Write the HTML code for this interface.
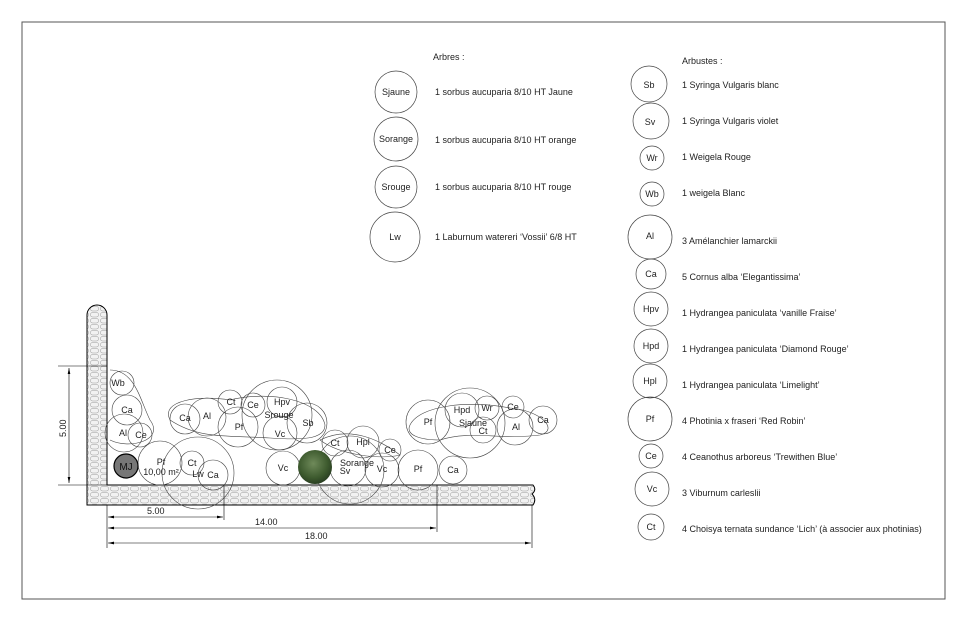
<!DOCTYPE html>
<html><head><meta charset="utf-8"><style>
html,body{margin:0;padding:0;background:#fff;}
svg{display:block;font-family:"Liberation Sans",sans-serif;}
text{font-size:9px;fill:#222;}
</style></head><body>
<svg width="967" height="621" viewBox="0 0 967 621" xmlns="http://www.w3.org/2000/svg">
<defs>
<pattern id="cob" width="10" height="6" patternUnits="userSpaceOnUse">
<rect width="10" height="6" fill="#f2f2f2"/>
<rect x="0.5" y="0.5" width="8" height="4.5" rx="2" fill="none" stroke="#9a9a9a" stroke-width="0.5"/>
</pattern>
<radialGradient id="bush" cx="0.45" cy="0.4" r="0.6"><stop offset="0" stop-color="#6f8a5a"/><stop offset="0.7" stop-color="#3d5a2e"/><stop offset="1" stop-color="#2a3f22"/></radialGradient>
<marker id="ar" markerWidth="10" markerHeight="6" refX="10" refY="3" orient="auto-start-reverse"><path d="M0,0.8 L10,3 L0,5.2z" fill="#000"/></marker>
</defs>
<rect x="22" y="22" width="923" height="577" fill="none" stroke="#555" stroke-width="1"/>

<!-- legend trees -->
<text x="433" y="60">Arbres :</text>
<g fill="none" stroke="#444" stroke-width="0.7">
<circle cx="396" cy="92" r="21"/><circle cx="396" cy="139" r="22"/><circle cx="396" cy="187" r="21"/><circle cx="395" cy="237" r="25"/>
</g>
<g text-anchor="middle"><text x="396" y="95">Sjaune</text><text x="396" y="142">Sorange</text><text x="396" y="190">Srouge</text><text x="395" y="240">Lw</text></g>
<text x="435" y="95">1 sorbus aucuparia 8/10 HT Jaune</text>
<text x="435" y="143">1 sorbus aucuparia 8/10 HT orange</text>
<text x="435" y="190">1 sorbus aucuparia 8/10 HT rouge</text>
<text x="435" y="240">1 Laburnum watereri ‘Vossii’ 6/8 HT</text>

<!-- legend shrubs -->
<text x="682" y="64">Arbustes :</text>
<g fill="none" stroke="#444" stroke-width="0.7">
<circle cx="649" cy="84" r="18"/><circle cx="651" cy="121" r="18"/><circle cx="652" cy="158" r="12"/><circle cx="652" cy="194" r="12"/><circle cx="650" cy="237" r="22"/><circle cx="651" cy="274" r="15"/><circle cx="651" cy="309" r="17"/><circle cx="651" cy="346" r="17"/><circle cx="650" cy="381" r="17"/><circle cx="650" cy="419" r="22"/><circle cx="651" cy="456" r="12"/><circle cx="652" cy="489" r="17"/><circle cx="651" cy="527" r="13"/>
</g>
<g text-anchor="middle">
<text x="649" y="88">Sb</text><text x="650" y="125">Sv</text><text x="652" y="161">Wr</text><text x="652" y="197">Wb</text><text x="650" y="239">Al</text><text x="651" y="277">Ca</text><text x="651" y="312">Hpv</text><text x="651" y="349">Hpd</text><text x="650" y="384">Hpl</text><text x="650" y="422">Pf</text><text x="651" y="459">Ce</text><text x="652" y="492">Vc</text><text x="651" y="530">Ct</text>
</g>
<text x="682" y="88">1 Syringa Vulgaris blanc</text>
<text x="682" y="124">1 Syringa Vulgaris violet</text>
<text x="682" y="160">1 Weigela Rouge</text>
<text x="682" y="196">1 weigela Blanc</text>
<text x="682" y="244">3 Amélanchier lamarckii</text>
<text x="682" y="280">5 Cornus alba ‘Elegantissima’</text>
<text x="682" y="316">1 Hydrangea paniculata ‘vanille Fraise’</text>
<text x="682" y="352">1 Hydrangea paniculata ‘Diamond Rouge’</text>
<text x="682" y="388">1 Hydrangea paniculata ‘Limelight’</text>
<text x="682" y="424">4 Photinia x fraseri ‘Red Robin’</text>
<text x="682" y="460">4 Ceanothus arboreus ‘Trewithen Blue’</text>
<text x="682" y="496">3 Viburnum carleslii</text>
<text x="682" y="532">4 Choisya ternata sundance ‘Lich’ (à associer aux photinias)</text>

<!-- wall -->
<path d="M87,505 L87,315 A10,10 0 0 1 107,315 L107,485 L533,485 Q537,490 532,494 Q537,499 533,505 Z" fill="url(#cob)" stroke="#000" stroke-width="1"/>

<!-- dimensions -->
<g stroke="#000" stroke-width="0.6" fill="none">
<line x1="58" y1="366" x2="107" y2="366"/><line x1="58" y1="485" x2="107" y2="485"/>
<line x1="69" y1="368" x2="69" y2="483" marker-start="url(#ar)" marker-end="url(#ar)"/>
<line x1="107" y1="505" x2="107" y2="548"/>
<line x1="224" y1="485" x2="224" y2="520"/>
<line x1="437" y1="485" x2="437" y2="532"/>
<line x1="532" y1="505" x2="532" y2="548"/>
<line x1="108" y1="517" x2="223" y2="517" marker-start="url(#ar)" marker-end="url(#ar)"/>
<line x1="108" y1="528" x2="436" y2="528" marker-start="url(#ar)" marker-end="url(#ar)"/>
<line x1="108" y1="543" x2="531" y2="543" marker-start="url(#ar)" marker-end="url(#ar)"/>
</g>
<text x="0" y="0" transform="translate(66,437) rotate(-90)">5.00</text>
<text x="147" y="514">5.00</text>
<text x="255" y="525">14.00</text>
<text x="305" y="539">18.00</text>

<!-- planting circles -->
<g fill="none" stroke="#444" stroke-width="0.6">
<circle cx="122" cy="383" r="12"/><circle cx="127" cy="410" r="15"/><circle cx="124" cy="433" r="19"/><circle cx="140" cy="435" r="12"/>
<circle cx="160" cy="463" r="22"/><circle cx="198" cy="473" r="36"/><circle cx="192" cy="463" r="12"/><circle cx="213" cy="475" r="15"/>
<circle cx="185" cy="419" r="15"/><circle cx="207" cy="417" r="19"/><circle cx="230" cy="402" r="12"/><circle cx="253" cy="405" r="12"/>
<circle cx="277" cy="415" r="35"/><circle cx="282" cy="402" r="15"/><circle cx="238" cy="427" r="20"/><circle cx="280" cy="433" r="17"/><circle cx="307" cy="423" r="20"/>
<circle cx="283" cy="468" r="17"/><circle cx="335" cy="443" r="13"/><circle cx="363" cy="442" r="16"/><circle cx="350" cy="470" r="34"/><circle cx="348" cy="468" r="18"/>
<circle cx="390" cy="450" r="11"/><circle cx="382" cy="470" r="17"/><circle cx="418" cy="470" r="20"/><circle cx="453" cy="470" r="14"/>
<circle cx="428" cy="422" r="22"/><circle cx="470" cy="423" r="35"/><circle cx="462" cy="410" r="17"/><circle cx="487" cy="408" r="12"/><circle cx="483" cy="430" r="13"/><circle cx="513" cy="407" r="11"/><circle cx="515" cy="427" r="18"/><circle cx="543" cy="420" r="14"/>
<path d="M110,370 C135,370 140,400 150,420 C165,440 130,450 110,440"/>
<path d="M170,420 C160,400 200,395 230,400 C270,390 320,400 325,425 C325,440 300,440 270,438 C230,435 200,440 170,420 Z"/>
<path d="M320,440 C350,425 380,440 400,455 C380,460 340,455 320,440 Z"/>
<path d="M410,425 C420,405 470,400 510,408 C540,410 560,430 540,435 C500,440 470,430 440,440 C420,440 405,435 410,425 Z"/>
</g>
<g text-anchor="middle">
<text x="118" y="386">Wb</text><text x="127" y="413">Ca</text><text x="123" y="436">Al</text><text x="141" y="438">Ce</text>
<text x="161" y="465">Pf</text><text x="161" y="475">10,00 m²</text><text x="192" y="466">Ct</text><text x="198" y="477">Lw</text><text x="213" y="478">Ca</text>
<text x="185" y="421">Ca</text><text x="207" y="419">Al</text><text x="231" y="405">Ct</text><text x="253" y="408">Ce</text><text x="282" y="405">Hpv</text><text x="279" y="418">Srouge</text>
<text x="239" y="430">Pf</text><text x="280" y="437">Vc</text><text x="308" y="426">Sb</text>
<text x="283" y="471">Vc</text><text x="335" y="446">Ct</text><text x="363" y="445">Hpl</text><text x="390" y="453">Ce</text><text x="357" y="466">Sorange</text><text x="345" y="474">Sv</text><text x="382" y="472">Vc</text><text x="418" y="472">Pf</text><text x="453" y="473">Ca</text>
<text x="428" y="425">Pf</text><text x="462" y="413">Hpd</text><text x="487" y="411">Wr</text><text x="473" y="426">Sjaune</text><text x="483" y="434">Ct</text><text x="513" y="410">Ce</text><text x="516" y="430">Al</text><text x="543" y="423">Ca</text>
</g>
<circle cx="126" cy="466" r="12" fill="#777" stroke="#000" stroke-width="1.2"/>
<text x="126" y="470" text-anchor="middle" style="font-size:10px;fill:#111">MJ</text>
<circle cx="315" cy="467" r="17" fill="url(#bush)"/>
</svg>
</body></html>
